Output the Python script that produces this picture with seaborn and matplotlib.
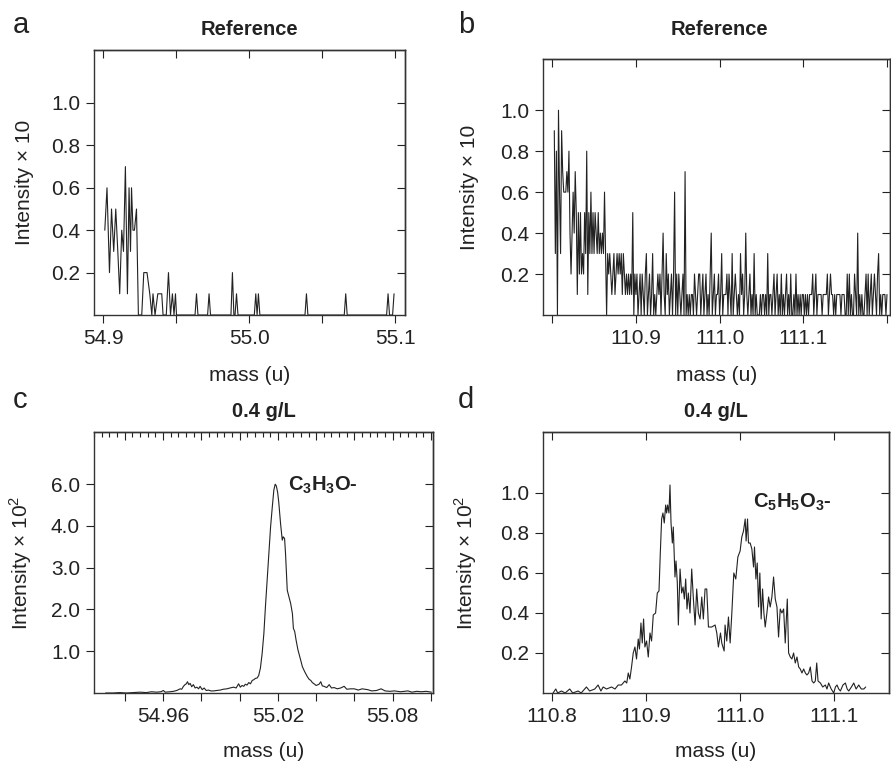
import numpy as np
import matplotlib
matplotlib.use("Agg")
import matplotlib.pyplot as plt
from matplotlib.ticker import MultipleLocator
import seaborn as sns

# a: reference spectrum near m/z 55 (intensity x 10)
mass_a = [54.9012, 54.9027, 54.9044, 54.9058, 54.9073, 54.9087, 54.9101, 54.9114,
          54.9128, 54.9140, 54.9153, 54.9167, 54.9178, 54.9188, 54.9195, 54.9205,
          54.9215, 54.9229, 54.9242, 54.9265, 54.9279, 54.9301, 54.9320, 54.9334,
          54.9342, 54.9356, 54.9375, 54.9402, 54.9411, 54.9433, 54.9448, 54.9462,
          54.9475, 54.9486, 54.9496, 54.9503, 54.9630, 54.9640, 54.9650, 54.9716,
          54.9726, 54.9736, 54.9876, 54.9886, 54.9896, 54.9904, 54.9914, 54.9924,
          55.0036, 55.0046, 55.0055, 55.0064, 55.0074, 55.0383, 55.0393, 55.0403,
          55.0652, 55.0662, 55.0672, 55.0942, 55.0952, 55.0962, 55.0983, 55.0993]
intensity_a = [0.4, 0.6, 0.2, 0.5, 0.3, 0.5, 0.3, 0.1,
               0.4, 0.3, 0.7, 0.1, 0.6, 0.3, 0.6, 0.4,
               0.4, 0.5, 0.0, 0.0, 0.2, 0.2, 0.1, 0.0,
               0.1, 0.0, 0.1, 0.1, 0.0, 0.0, 0.2, 0.0,
               0.1, 0.0, 0.1, 0.0, 0.0, 0.1, 0.0, 0.0,
               0.1, 0.0, 0.0, 0.2, 0.0, 0.0, 0.1, 0.0,
               0.0, 0.1, 0.0, 0.1, 0.0, 0.0, 0.1, 0.0,
               0.0, 0.1, 0.0, 0.0, 0.1, 0.0, 0.0, 0.1]

# b: reference spectrum near m/z 111 (intensity x 10), evenly sampled
mass_b_range = (110.8025, 111.2)
intensity_b = [
    0.9, 0.3, 0.8, 0.0, 1.0, 0.6, 0.3, 0.9, 0.7, 0.6, 0.6, 0.6, 0.7, 0.6, 0.8, 0.4, 0.2, 0.4, 0.6, 0.4,
    0.7, 0.5, 0.1, 0.5, 0.2, 0.5, 0.2, 0.3, 0.2, 0.5, 0.3, 0.8, 0.1, 0.5, 0.3, 0.6, 0.3, 0.5, 0.3, 0.5,
    0.4, 0.3, 0.5, 0.3, 0.4, 0.3, 0.4, 0.3, 0.6, 0.3, 0.0, 0.3, 0.2, 0.3, 0.2, 0.1,
    0.2, 0.3, 0.1, 0.2, 0.3, 0.2, 0.3, 0.2, 0.3, 0.1, 0.3, 0.2, 0.1, 0.2, 0.1, 0.2, 0.1, 0.2, 0.1, 0.5,
    0.0, 0.2, 0.1, 0.2, 0.0,
    0.1, 0.2, 0.0, 0.2, 0.1, 0.0, 0.2, 0.3, 0.0, 0.1, 0.2, 0.0, 0.1, 0.3, 0.0, 0.1, 0.0, 0.1, 0.2, 0.1,
    0.2, 0.0, 0.2, 0.4, 0.1, 0.0, 0.3, 0.1, 0.2, 0.0, 0.1, 0.2, 0.0, 0.2, 0.6, 0.0, 0.2, 0.0, 0.2, 0.1,
    0.0, 0.1, 0.2, 0.0, 0.7, 0.0, 0.1, 0.0, 0.1, 0.0, 0.1, 0.1, 0.0, 0.2, 0.1, 0.0, 0.1, 0.2, 0.2, 0.0,
    0.1, 0.2, 0.0, 0.1, 0.2, 0.0, 0.1, 0.0, 0.2, 0.4, 0.0, 0.1, 0.2, 0.0, 0.1, 0.1, 0.2, 0.0, 0.1, 0.3,
    0.0, 0.1, 0.1, 0.1, 0.2, 0.0, 0.2, 0.1, 0.0, 0.3, 0.0, 0.1, 0.2, 0.1, 0.0, 0.1, 0.0, 0.3, 0.1, 0.2,
    0.0, 0.1, 0.4, 0.1, 0.0, 0.1, 0.2, 0.0, 0.1, 0.0, 0.3, 0.0, 0.1, 0.0, 0.0, 0.0, 0.1, 0.0, 0.1, 0.1,
    0.0, 0.1, 0.0, 0.3, 0.0, 0.1, 0.1, 0.0, 0.1, 0.2, 0.0, 0.1, 0.2, 0.0, 0.1, 0.0, 0.2, 0.0, 0.1, 0.0,
    0.1, 0.2, 0.0, 0.1, 0.0, 0.2, 0.0, 0.0, 0.1, 0.0, 0.2, 0.0, 0.1, 0.0, 0.1, 0.0, 0.1, 0.1, 0.0, 0.1,
    0.0, 0.1, 0.0, 0.1, 0.1, 0.1, 0.2, 0.0, 0.1, 0.2, 0.0, 0.1, 0.1, 0.1, 0.1, 0.0, 0.1, 0.1, 0.1, 0.1,
    0.2, 0.0, 0.1, 0.2, 0.1, 0.1, 0.0, 0.1, 0.0, 0.1, 0.1, 0.1, 0.1, 0.0, 0.1, 0.1, 0.1, 0.0, 0.0, 0.2,
    0.0, 0.2, 0.0, 0.1, 0.0, 0.0, 0.2, 0.1, 0.0, 0.4, 0.0, 0.1, 0.0, 0.1, 0.0, 0.0, 0.1, 0.2, 0.0, 0.2,
    0.0, 0.1, 0.2, 0.0, 0.1, 0.2, 0.1, 0.0, 0.2, 0.3, 0.0, 0.1, 0.0, 0.1, 0.1, 0.1, 0.0, 0.1]

# c: 0.4 g/L sample, C3H3O- peak (intensity x 10^2, axis units)
mass_c = [54.9301, 54.9340, 54.9374, 54.9410, 54.9444, 54.9480, 54.9514, 54.9540,
          54.9567, 54.9590, 54.9602, 54.9612, 54.9637, 54.9655, 54.9672, 54.9690,
          54.9698, 54.9707, 54.9715, 54.9722, 54.9728, 54.9735, 54.9742, 54.9750,
          54.9759, 54.9768, 54.9777, 54.9786, 54.9794, 54.9805, 54.9815, 54.9826,
          54.9838, 54.9850, 54.9864, 54.9880, 54.9899, 54.9915, 54.9934, 54.9950,
          54.9969, 54.9982, 54.9995, 55.0004, 55.0013, 55.0022, 55.0030, 55.0039,
          55.0048, 55.0057, 55.0066, 55.0075, 55.0083, 55.0092, 55.0100, 55.0109,
          55.0118, 55.0127, 55.0135, 55.0144, 55.0153, 55.0162, 55.0171, 55.0179,
          55.0186, 55.0192, 55.0199, 55.0205, 55.0214, 55.0223, 55.0228, 55.0235,
          55.0240, 55.0249, 55.0258, 55.0267, 55.0276, 55.0281, 55.0288, 55.0295,
          55.0305, 55.0312, 55.0319, 55.0328, 55.0340, 55.0354, 55.0363, 55.0372,
          55.0380, 55.0389, 55.0400, 55.0415, 55.0424, 55.0432, 55.0441, 55.0455,
          55.0468, 55.0480, 55.0494, 55.0510, 55.0528, 55.0546, 55.0560, 55.0580,
          55.0599, 55.0620, 55.0640, 55.0669, 55.0690, 55.0715, 55.0739, 55.0760,
          55.0785, 55.0809, 55.0840, 55.0860, 55.0879, 55.0900, 55.0925, 55.0949,
          55.0975, 55.1002]
intensity_c = [0.00, 0.00, 0.01, 0.00, 0.01, 0.02, 0.01, 0.03,
               0.02, 0.03, 0.06, 0.02, 0.03, 0.04, 0.06, 0.10,
               0.09, 0.16, 0.20, 0.22, 0.27, 0.20, 0.23, 0.15,
               0.20, 0.12, 0.14, 0.10, 0.16, 0.08, 0.12, 0.06,
               0.07, 0.05, 0.05, 0.06, 0.07, 0.09, 0.10, 0.12,
               0.14, 0.12, 0.22, 0.14, 0.18, 0.16, 0.21, 0.19,
               0.25, 0.22, 0.30, 0.32, 0.35, 0.36, 0.42, 0.60,
               0.95, 1.43, 2.06, 2.70, 3.34, 3.98, 4.46, 4.86,
               5.00, 4.96, 4.80, 4.55, 4.06, 3.66, 3.74, 3.70,
               3.34, 2.46, 2.30, 2.14, 1.90, 1.55, 1.47, 1.27,
               1.03, 0.91, 0.79, 0.63, 0.51, 0.39, 0.33, 0.30,
               0.25, 0.22, 0.18, 0.21, 0.27, 0.17, 0.16, 0.13,
               0.20, 0.12, 0.13, 0.10, 0.12, 0.16, 0.09, 0.10,
               0.10, 0.07, 0.10, 0.08, 0.05, 0.06, 0.10, 0.05,
               0.04, 0.05, 0.03, 0.04, 0.05, 0.02, 0.04, 0.03,
               0.04, 0.02]

# d: 0.4 g/L sample, C5H5O3- region (intensity x 10^2)
mass_d = [110.8011, 110.8040, 110.8060, 110.8100, 110.8140, 110.8188, 110.8220, 110.8277,
          110.8310, 110.8366, 110.8400, 110.8455, 110.8490, 110.8520, 110.8544, 110.8580,
          110.8633, 110.8670, 110.8704, 110.8739, 110.8775, 110.8795, 110.8811, 110.8828,
          110.8846, 110.8864, 110.8882, 110.8899, 110.8917, 110.8930, 110.8946, 110.8960,
          110.8974, 110.8988, 110.9006, 110.9024, 110.9042, 110.9059, 110.9077, 110.9102,
          110.9120, 110.9138, 110.9152, 110.9166, 110.9180, 110.9194, 110.9209, 110.9219,
          110.9230, 110.9244, 110.9255, 110.9266, 110.9280, 110.9290, 110.9308, 110.9319,
          110.9333, 110.9344, 110.9362, 110.9379, 110.9394, 110.9408, 110.9422, 110.9436,
          110.9450, 110.9468, 110.9486, 110.9504, 110.9522, 110.9539, 110.9557, 110.9575,
          110.9593, 110.9610, 110.9628, 110.9646, 110.9664, 110.9699, 110.9735, 110.9753,
          110.9770, 110.9792, 110.9806, 110.9831, 110.9841, 110.9859, 110.9877, 110.9895,
          110.9913, 110.9934, 110.9955, 110.9977, 111.0001, 111.0019, 111.0037, 111.0055,
          111.0065, 111.0080, 111.0090, 111.0108, 111.0126, 111.0144, 111.0154, 111.0169,
          111.0183, 111.0197, 111.0211, 111.0225, 111.0240, 111.0254, 111.0268, 111.0286,
          111.0304, 111.0321, 111.0339, 111.0357, 111.0375, 111.0393, 111.0410, 111.0428,
          111.0446, 111.0464, 111.0481, 111.0503, 111.0517, 111.0535, 111.0552, 111.0570,
          111.0588, 111.0606, 111.0624, 111.0641, 111.0659, 111.0677, 111.0695, 111.0712,
          111.0730, 111.0748, 111.0766, 111.0784, 111.0801, 111.0816, 111.0830, 111.0855,
          111.0880, 111.0908, 111.0925, 111.0943, 111.0970, 111.0997, 111.1015, 111.1032,
          111.1050, 111.1068, 111.1095, 111.1121, 111.1140, 111.1157, 111.1185, 111.1210,
          111.1235, 111.1263, 111.1290, 111.1317, 111.1337]
intensity_d = [0.00, 0.02, 0.00, 0.01, 0.00, 0.02, 0.00, 0.01,
               0.00, 0.03, 0.01, 0.02, 0.04, 0.01, 0.03, 0.02,
               0.03, 0.02, 0.04, 0.04, 0.06, 0.05, 0.10, 0.07,
               0.13, 0.20, 0.23, 0.17, 0.27, 0.22, 0.35, 0.25,
               0.37, 0.23, 0.26, 0.18, 0.30, 0.26, 0.39, 0.40,
               0.50, 0.51, 0.70, 0.87, 0.90, 0.85, 0.94, 0.90,
               0.94, 0.90, 1.04, 0.85, 0.75, 0.83, 0.58, 0.66,
               0.55, 0.34, 0.62, 0.50, 0.53, 0.47, 0.57, 0.42,
               0.50, 0.40, 0.62, 0.47, 0.34, 0.52, 0.40, 0.37,
               0.48, 0.37, 0.52, 0.52, 0.33, 0.33, 0.34, 0.30,
               0.23, 0.30, 0.25, 0.21, 0.34, 0.26, 0.38, 0.25,
               0.40, 0.60, 0.57, 0.68, 0.71, 0.78, 0.81, 0.87,
               0.76, 0.87, 0.75, 0.75, 0.72, 0.63, 0.73, 0.57,
               0.65, 0.43, 0.60, 0.37, 0.52, 0.40, 0.33, 0.40,
               0.48, 0.43, 0.48, 0.58, 0.47, 0.43, 0.28, 0.42,
               0.40, 0.42, 0.25, 0.47, 0.20, 0.18, 0.17, 0.20,
               0.15, 0.18, 0.13, 0.12, 0.10, 0.12, 0.10, 0.09,
               0.10, 0.13, 0.06, 0.05, 0.06, 0.15, 0.06, 0.05,
               0.03, 0.04, 0.02, 0.05, 0.02, 0.00, 0.03, 0.04,
               0.02, 0.01, 0.04, 0.05, 0.02, 0.01, 0.03, 0.05,
               0.02, 0.04, 0.02, 0.02, 0.03]

panel_letters = ["a", "b", "c", "d"]
panel_titles = ["Reference", "Reference", "0.4 g/L", "0.4 g/L"]
ion_labels = [r"$\mathbf{C_3H_3O}$-", r"$\mathbf{C_5H_5O_3}$-"]

sns.set_theme(style="ticks")
plt.rcParams["font.family"] = ["Liberation Sans", "DejaVu Sans"]
plt.rcParams["mathtext.fontset"] = "custom"
plt.rcParams["mathtext.rm"] = "Liberation Sans"
plt.rcParams["mathtext.bf"] = "Liberation Sans:bold"
ink = "#222222"

W, H = 891, 761
fig = plt.figure(figsize=(W / 100, H / 100), dpi=100)


def box(left, top, right, bottom):
    return fig.add_axes([left / W, 1 - bottom / H, (right - left) / W, (bottom - top) / H])


ax_a = box(94, 50, 405, 315)
ax_b = box(543, 59, 890, 315)
ax_c = box(94, 432, 433, 693)
ax_d = box(543, 432, 889, 693)

# spectra
sns.lineplot(x=mass_a, y=intensity_a, ax=ax_a, color=ink, linewidth=0.8, estimator=None, sort=False)
sns.lineplot(x=np.linspace(*mass_b_range, len(intensity_b)), y=intensity_b, ax=ax_b,
             color=ink, linewidth=0.8, estimator=None, sort=False)
sns.lineplot(x=mass_c, y=intensity_c, ax=ax_c, color=ink, linewidth=0.8, estimator=None, sort=False)
sns.lineplot(x=mass_d, y=intensity_d, ax=ax_d, color=ink, linewidth=0.8, estimator=None, sort=False)


def style(ax, xlim, ylim, xticks, xlabels, yticks, ylabels, ylabel, ylab_x, xlab_y, top_minor=None):
    ax.set_xlim(xlim)
    ax.set_ylim(ylim)
    ax.set_xticks(xticks, xlabels)
    ax.set_yticks(yticks, ylabels)
    ax.tick_params(direction="out", length=5.5, width=0.8, pad=4.5, labelsize=15,
                   colors=ink, labelcolor=ink)
    ax.set_xlabel("mass (u)", fontsize=15, color=ink)
    ax.set_ylabel(ylabel, fontsize=15, color=ink)
    ax.yaxis.set_label_coords(ylab_x, 0.5)
    ax.xaxis.set_label_coords(0.5, xlab_y)
    for s in ax.spines.values():
        s.set_linewidth(1.0)
        s.set_color("#333333")
    # inward ticks on the top and right sides
    top = ax.secondary_xaxis("top")
    top.set_xticks(xticks)
    top.tick_params(direction="in", length=6, width=0.8, labeltop=False, colors=ink)
    if top_minor:
        top.xaxis.set_minor_locator(MultipleLocator(top_minor))
        top.tick_params(which="minor", direction="in", length=3.5, width=0.8, colors=ink)
    top.spines["top"].set_linewidth(1.0)
    top.spines["top"].set_color("#333333")
    right = ax.secondary_yaxis("right")
    right.set_yticks(yticks)
    right.tick_params(direction="in", length=6, width=0.8, labelright=False, colors=ink)
    right.spines["right"].set_linewidth(1.0)
    right.spines["right"].set_color("#333333")


style(ax_a, (54.8938, 55.1068), (0, 1.25),
      [54.9, 54.95, 55.0, 55.05, 55.1], ["54.9", "", "55.0", "", "55.1"],
      [0.2, 0.4, 0.6, 0.8, 1.0], ["0.2", "0.4", "0.6", "0.8", "1.0"],
      "Intensity × 10", -0.193, -0.192)
style(ax_b, (110.789, 111.2036), (0, 1.25),
      [110.8, 110.9, 111.0, 111.1, 111.2], ["", "110.9", "111.0", "111.1", ""],
      [0.2, 0.4, 0.6, 0.8, 1.0], ["0.2", "0.4", "0.6", "0.8", "1.0"],
      "Intensity × 10", -0.184, -0.199)
style(ax_c, (54.924, 55.101), (0, 6.25),
      [54.94, 54.96, 54.98, 55.0, 55.02, 55.04, 55.06, 55.08, 55.1],
      ["", "54.96", "", "", "55.02", "", "", "55.08", ""],
      [1, 2, 3, 4, 5], ["1.0", "2.0", "3.0", "4.0", "6.0"],
      "Intensity × 10$^2$", -0.177, -0.188, top_minor=0.004)
style(ax_d, (110.7904, 111.1585), (0, 1.305),
      [110.8, 110.9, 111.0, 111.1], ["110.8", "110.9", "111.0", "111.1"],
      [0.2, 0.4, 0.6, 0.8, 1.0], ["0.2", "0.4", "0.6", "0.8", "1.0"],
      "Intensity × 10$^2$", -0.185, -0.188)

# ion labels
ax_c.text(55.0251, 4.98, ion_labels[0], fontsize=14.5, fontweight="bold", color=ink,
          ha="left", va="center")
ax_d.text(111.0138, 0.955, ion_labels[1], fontsize=14.5, fontweight="bold", color=ink,
          ha="left", va="center")

# titles and panel letters
title_pos = [(249, 35), (719, 35), (264, 416.7), (716, 416.7)]
letter_pos = [(13, 33), (458, 33), (13, 408), (458, 408)]
for t, (x, y) in zip(panel_titles, title_pos):
    fig.text(x / W, 1 - y / H, t, fontsize=14.5, fontweight="bold", color=ink,
             ha="center", va="baseline")
for l, (x, y) in zip(panel_letters, letter_pos):
    fig.text(x / W, 1 - y / H, l, fontsize=21, color=ink, ha="left", va="baseline")

fig.savefig("out.png", dpi=100)
